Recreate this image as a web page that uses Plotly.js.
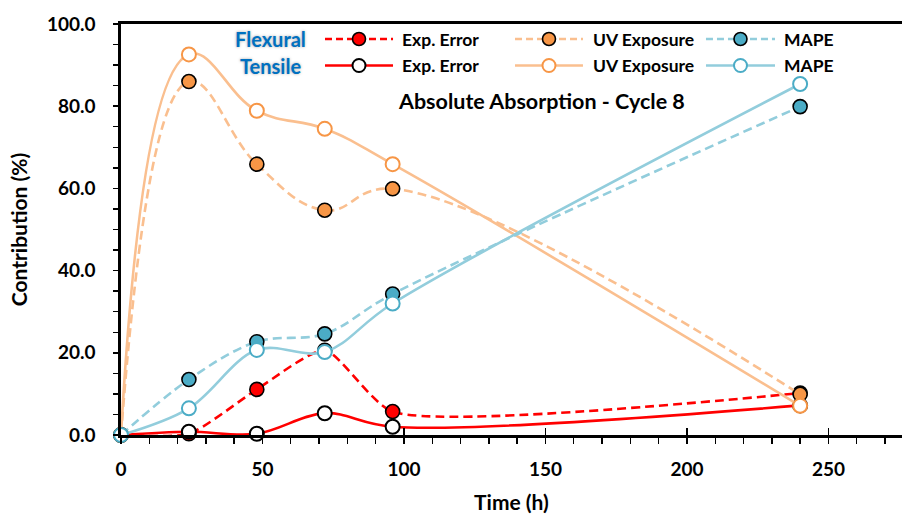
<!DOCTYPE html>
<html>
<head>
<meta charset="utf-8">
<script src="https://cdn.plot.ly/plotly-3.0.1.min.js"></script>
<style>
  html, body { margin: 0; padding: 0; background: #fff; }
  #chart { width: 902px; height: 517px; }
</style>
</head>
<body>
<div id="chart"></div>
<script>
// Sampling times (h)
const time = [0, 24, 48, 72, 96, 240];

// Flexural contributions (%)
const flexExpError = [0, 0.3, 11.1, 20.6, 5.7, 10.2];
const flexUV       = [0, 86.0, 65.9, 54.7, 59.9, 9.9];
const flexMAPE     = [0, 13.5, 22.7, 24.6, 34.3, 79.9];

// Tensile contributions (%)
const tensExpError = [0, 0.8, 0.3, 5.3, 2.0, 7.2];
const tensUV       = [0, 92.6, 78.9, 74.5, 65.9, 7.1];
const tensMAPE     = [0, 6.5, 20.7, 20.2, 32.0, 85.4];

const chartTitle = 'Absolute Absorption - Cycle 8';
const groupLabels = ['Flexural', 'Tensile'];
const seriesLabels = ['Exp. Error', 'UV Exposure', 'MAPE'];

const FONT = 'Lato, "Open Sans", sans-serif';
const RED = '#FF0000';
const UV_LINE = '#FABF8F';
const UV_MARK = '#F79646';
const MAPE_LINE = '#92CDDC';
const MAPE_MARK = '#4BACC6';
const DASH = '9px,5px';

function series(y, lineColor, dashed, fill, outline, smooth) {
  return {
    x: time, y: y, type: 'scatter', mode: 'lines+markers',
    line: {shape: 'spline', smoothing: smooth, color: lineColor, width: 2.6, dash: dashed ? DASH : 'solid'},
    marker: {size: 14, color: fill, line: {color: outline, width: dashed ? 1.6 : 2}},
    showlegend: false, hoverinfo: 'x+y', cliponaxis: false
  };
}

const traces = [
  series(flexExpError, RED, true, RED, '#000', 0.6),
  series(tensExpError, RED, false, '#fff', '#000', 1),
  series(flexUV, UV_LINE, true, UV_MARK, '#000', 1.2),
  series(tensUV, UV_LINE, false, '#fff', UV_MARK, 1.2),
  series(flexMAPE, MAPE_LINE, true, MAPE_MARK, '#000', 1),
  series(tensMAPE, MAPE_LINE, false, '#fff', MAPE_MARK, 1),
  // carrier for the crossing major ticks on the time axis
  {x: [], y: [], xaxis: 'x2', type: 'scatter', showlegend: false}
];

// Hand-built two-row key (paper coordinates)
const keyRows = [
  {y: 0.9635, dashed: true,  fills: [RED, UV_MARK, MAPE_MARK], outlines: ['#000', '#000', '#000']},
  {y: 0.8990, dashed: false, fills: ['#fff', '#fff', '#fff'], outlines: ['#000', UV_MARK, MAPE_MARK]}
];
const keyCols = [
  {x0: 0.2612, x1: 0.3483, line: RED, tx: 0.3572},
  {x0: 0.5045, x1: 0.5915, line: UV_LINE, tx: 0.6018},
  {x0: 0.7490, x1: 0.8374, line: MAPE_LINE, tx: 0.8464}
];

const shapes = [];
const annotations = [];
keyRows.forEach((row, r) => {
  keyCols.forEach((col, c) => {
    shapes.push({type: 'line', xref: 'paper', yref: 'paper', x0: col.x0, x1: col.x1, y0: row.y, y1: row.y,
      line: {color: col.line, width: 2.6, dash: row.dashed ? '7px,4px' : 'solid'}});
    const cx = (col.x0 + col.x1) / 2;
    shapes.push({type: 'circle', xref: 'paper', yref: 'paper', xsizemode: 'pixel', ysizemode: 'pixel',
      xanchor: cx, yanchor: row.y, x0: -6.5, x1: 6.5, y0: -6.5, y1: 6.5,
      fillcolor: row.fills[c], line: {color: row.outlines[c], width: row.dashed ? 1.6 : 2}});
    annotations.push({xref: 'paper', yref: 'paper', x: col.tx, y: row.y, xanchor: 'left', yanchor: 'middle',
      text: seriesLabels[c], showarrow: false,
      font: {family: FONT, size: 17.5, color: '#000', weight: 'bold'}});
  });
  annotations.push({xref: 'paper', yref: 'paper', x: 0.191, y: row.y, xanchor: 'center', yanchor: 'middle',
    text: groupLabels[r], showarrow: false,
    font: {family: FONT, size: 20, color: '#0070C0', weight: 'bold', shadow: '0px 0px 3px rgba(0,0,0,0.35)'}});
});

annotations.push({xref: 'paper', yref: 'paper', x: 0.5378, y: 0.8127, xanchor: 'center', yanchor: 'middle',
  text: chartTitle, showarrow: false, font: {family: FONT, size: 21.5, color: '#000', weight: 'bold'}});

const XRANGE = [0, 276];

const layout = {
  width: 902, height: 517,
  margin: {l: 121, r: 0, t: 24, b: 82, pad: 0},
  paper_bgcolor: '#fff', plot_bgcolor: '#fff',
  font: {family: FONT, color: '#000'},
  showlegend: false,
  xaxis: {
    range: XRANGE, dtick: 50, tick0: 0,
    showgrid: false, zeroline: false,
    showline: true, linecolor: '#000', linewidth: 2.6, mirror: true,
    ticks: 'outside', ticklen: 6, tickwidth: 1.6, tickcolor: '#000',
    minor: {dtick: 10, ticks: 'outside', ticklen: 6, tickwidth: 1.4, tickcolor: '#000', showgrid: false},
    tickfont: {family: FONT, size: 19, weight: 'bold'},
    ticklabelstandoff: 10,
    title: {text: 'Time (h)', font: {family: FONT, size: 21, weight: 'bold'}, standoff: 16}
  },
  xaxis2: {
    range: XRANGE, dtick: 50, tick0: 0, overlaying: 'x', anchor: 'y', side: 'bottom',
    showgrid: false, zeroline: false, showline: false, showticklabels: false,
    ticks: 'inside', ticklen: 7, tickwidth: 1.6, tickcolor: '#000'
  },
  yaxis: {
    range: [0, 100], dtick: 20, tick0: 0, tickformat: '.1f',
    showgrid: false, zeroline: false,
    showline: true, linecolor: '#000', linewidth: 2.6,
    ticks: 'outside', ticklen: 5, tickwidth: 1.6, tickcolor: '#000',
    minor: {dtick: 5, ticks: 'outside', ticklen: 5, tickwidth: 1.4, tickcolor: '#000', showgrid: false},
    tickfont: {family: FONT, size: 19, weight: 'bold'},
    ticklabelstandoff: 14,
    title: {text: 'Contribution (%)', font: {family: FONT, size: 21, weight: 'bold'}, standoff: 14}
  },
  shapes: shapes,
  annotations: annotations
};

Plotly.newPlot('chart', traces, layout, {displayModeBar: false, staticPlot: true});
</script>
</body>
</html>
